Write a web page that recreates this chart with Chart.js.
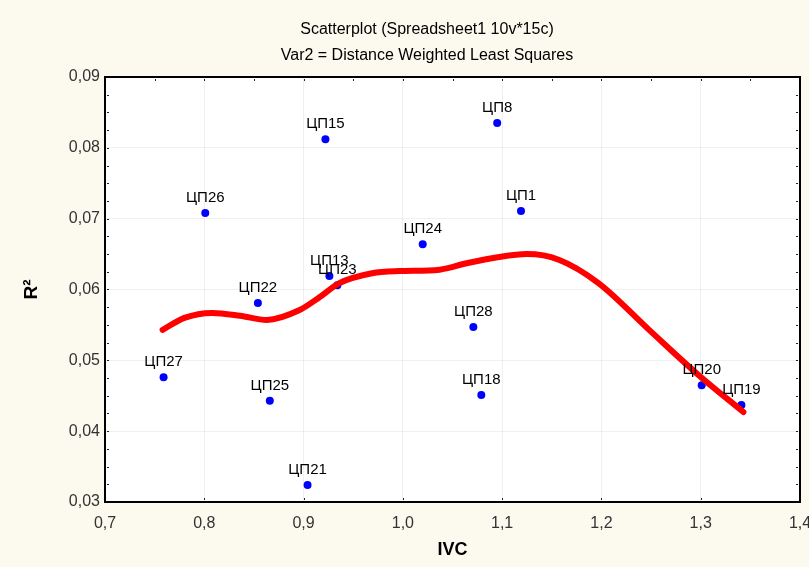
<!DOCTYPE html>
<html>
<head>
<meta charset="utf-8">
<script src="https://cdn.jsdelivr.net/npm/chart.js@4/dist/chart.umd.min.js"></script>
<style>
  html, body { margin: 0; padding: 0; background: #fcf9ef; }
  #wrap { width: 809px; height: 567px; }
</style>
</head>
<body>
<div id="wrap"><canvas id="scatter"></canvas></div>
<script>
/* ── data ── */
const titleLines = ['Scatterplot (Spreadsheet1 10v*15c)', 'Var2 = Distance Weighted Least Squares'];
const pointLabels = ['ЦП8', 'ЦП15', 'ЦП26', 'ЦП1', 'ЦП24', 'ЦП13', 'ЦП23', 'ЦП22', 'ЦП28', 'ЦП27', 'ЦП25', 'ЦП18', 'ЦП20', 'ЦП19', 'ЦП21'];
const ivc = [1.095, 0.922, 0.801, 1.119, 1.020, 0.926, 0.934, 0.854, 1.071, 0.759, 0.866, 1.079, 1.301, 1.341, 0.904];
const r2 = [0.0835, 0.0812, 0.0708, 0.0711, 0.0664, 0.0619, 0.0606, 0.0581, 0.0547, 0.0476, 0.0443, 0.0451, 0.0465, 0.0437, 0.0324];

// distance weighted least squares fit
const fitX = [0.758, 0.780, 0.808, 0.836, 0.863, 0.896, 0.916, 0.936, 0.969, 0.996, 1.037, 1.064, 1.097, 1.125, 1.157, 1.197, 1.248, 1.298, 1.343];
const fitY = [0.0543, 0.0560, 0.0567, 0.0563, 0.0557, 0.0571, 0.0589, 0.0609, 0.0623, 0.0626, 0.0628, 0.0637, 0.0646, 0.0650, 0.0642, 0.0609, 0.0543, 0.0479, 0.0427];

const xTicks = [0.7, 0.8, 0.9, 1.0, 1.1, 1.2, 1.3, 1.4];
const yTicks = [0.03, 0.04, 0.05, 0.06, 0.07, 0.08, 0.09];

const FONT = "Arial, 'Liberation Sans', sans-serif";

/* ── plot frame: white area, black box, small inner ticks, title ── */
const framePlugin = {
  id: 'frame',
  beforeDraw(chart) {
    const { ctx, chartArea: a } = chart;
    ctx.save();
    ctx.fillStyle = '#ffffff';
    ctx.fillRect(a.left, a.top, a.right - a.left, a.bottom - a.top);
    ctx.font = '16px ' + FONT;
    ctx.fillStyle = '#000';
    ctx.textAlign = 'center';
    ctx.textBaseline = 'middle';
    ctx.fillText(titleLines[0], 427, 30);
    ctx.fillText(titleLines[1], 427, 56);
    ctx.restore();
  },
  afterDraw(chart) {
    const { ctx, chartArea: a, scales } = chart;
    ctx.save();
    ctx.fillStyle = '#222';
    for (let v = 0.03; v <= 0.0901; v += 0.0025) {
      const y = Math.round(scales.y.getPixelForValue(v));
      ctx.fillRect(a.left + 2, y, 2, 1);
      ctx.fillRect(a.right - 4, y, 2, 1);
    }
    for (let v = 0.7; v <= 1.401; v += 0.05) {
      const x = Math.round(scales.x.getPixelForValue(v));
      ctx.fillRect(x, a.top + 2, 1, 2);
    }
    xTicks.forEach(v => {
      const x = Math.round(scales.x.getPixelForValue(v));
      ctx.fillRect(x, a.bottom - 4, 1, 2);
    });
    ctx.strokeStyle = '#000';
    ctx.lineWidth = 2;
    ctx.strokeRect(a.left, a.top, a.right - a.left, a.bottom - a.top);
    ctx.restore();
  },
};

/* ── text labels above each point ── */
const labelPlugin = {
  id: 'pointText',
  afterDatasetsDraw(chart) {
    const meta = chart.getDatasetMeta(1);
    const ctx = chart.ctx;
    ctx.save();
    ctx.font = '15px ' + FONT;
    ctx.fillStyle = '#000';
    ctx.textAlign = 'center';
    ctx.textBaseline = 'middle';
    meta.data.forEach((pt, i) => {
      ctx.fillText(pointLabels[i], pt.x, pt.y - 15);
    });
    ctx.restore();
  },
};

new Chart(document.getElementById('scatter'), {
  type: 'scatter',
  data: {
    datasets: [
      {
        label: 'DWLS',
        data: fitX.map((x, i) => ({ x, y: fitY[i] })),
        showLine: true,
        borderColor: '#ff0000',
        borderWidth: 6,
        pointRadius: 0,
        cubicInterpolationMode: 'monotone',
        borderCapStyle: 'round',
      },
      {
        label: 'R2',
        data: ivc.map((x, i) => ({ x, y: r2[i] })),
        backgroundColor: '#0000ff',
        borderColor: '#0000ff',
        pointRadius: 4,
        borderWidth: 0,
      },
    ],
  },
  options: {
    responsive: true,
    maintainAspectRatio: false,
    animation: false,
    layout: { padding: { left: 0, right: 9, top: 77, bottom: 0 } },
    plugins: {
      legend: { display: false },
      tooltip: { enabled: false },
      title: { display: false },
    },
    scales: {
      x: {
        type: 'linear',
        min: 0.7,
        max: 1.4,
        afterBuildTicks: s => { s.ticks = xTicks.map(v => ({ value: v })); },
        afterFit: s => { s.height = 65; s.paddingLeft = 0; s.paddingRight = 0; },
        grid: { color: 'rgba(0,0,0,0.06)', drawTicks: false },
        border: { display: false },
        ticks: {
          color: '#333',
          padding: 12,
          font: { family: FONT, size: 16 },
          callback: v => v.toFixed(1).replace('.', ','),
        },
        title: {
          display: true,
          text: 'IVC',
          color: '#000',
          font: { family: FONT, size: 18, weight: 'bold' },
          padding: { top: 4, bottom: 6 },
        },
      },
      y: {
        type: 'linear',
        min: 0.03,
        max: 0.09,
        afterBuildTicks: s => { s.ticks = yTicks.map(v => ({ value: v })); },
        afterFit: s => { s.width = 105; s.paddingTop = 0; s.paddingBottom = 0; },
        grid: { color: 'rgba(0,0,0,0.06)', drawTicks: false },
        border: { display: false },
        ticks: {
          color: '#333',
          padding: 5,
          font: { family: FONT, size: 16 },
          callback: v => v.toFixed(2).replace('.', ','),
        },
        title: {
          display: true,
          text: 'R²',
          color: '#000',
          font: { family: FONT, size: 19, weight: 'bold' },
          padding: { top: 20, bottom: 0 },
        },
      },
    },
  },
  plugins: [framePlugin, labelPlugin],
});
</script>
</body>
</html>
